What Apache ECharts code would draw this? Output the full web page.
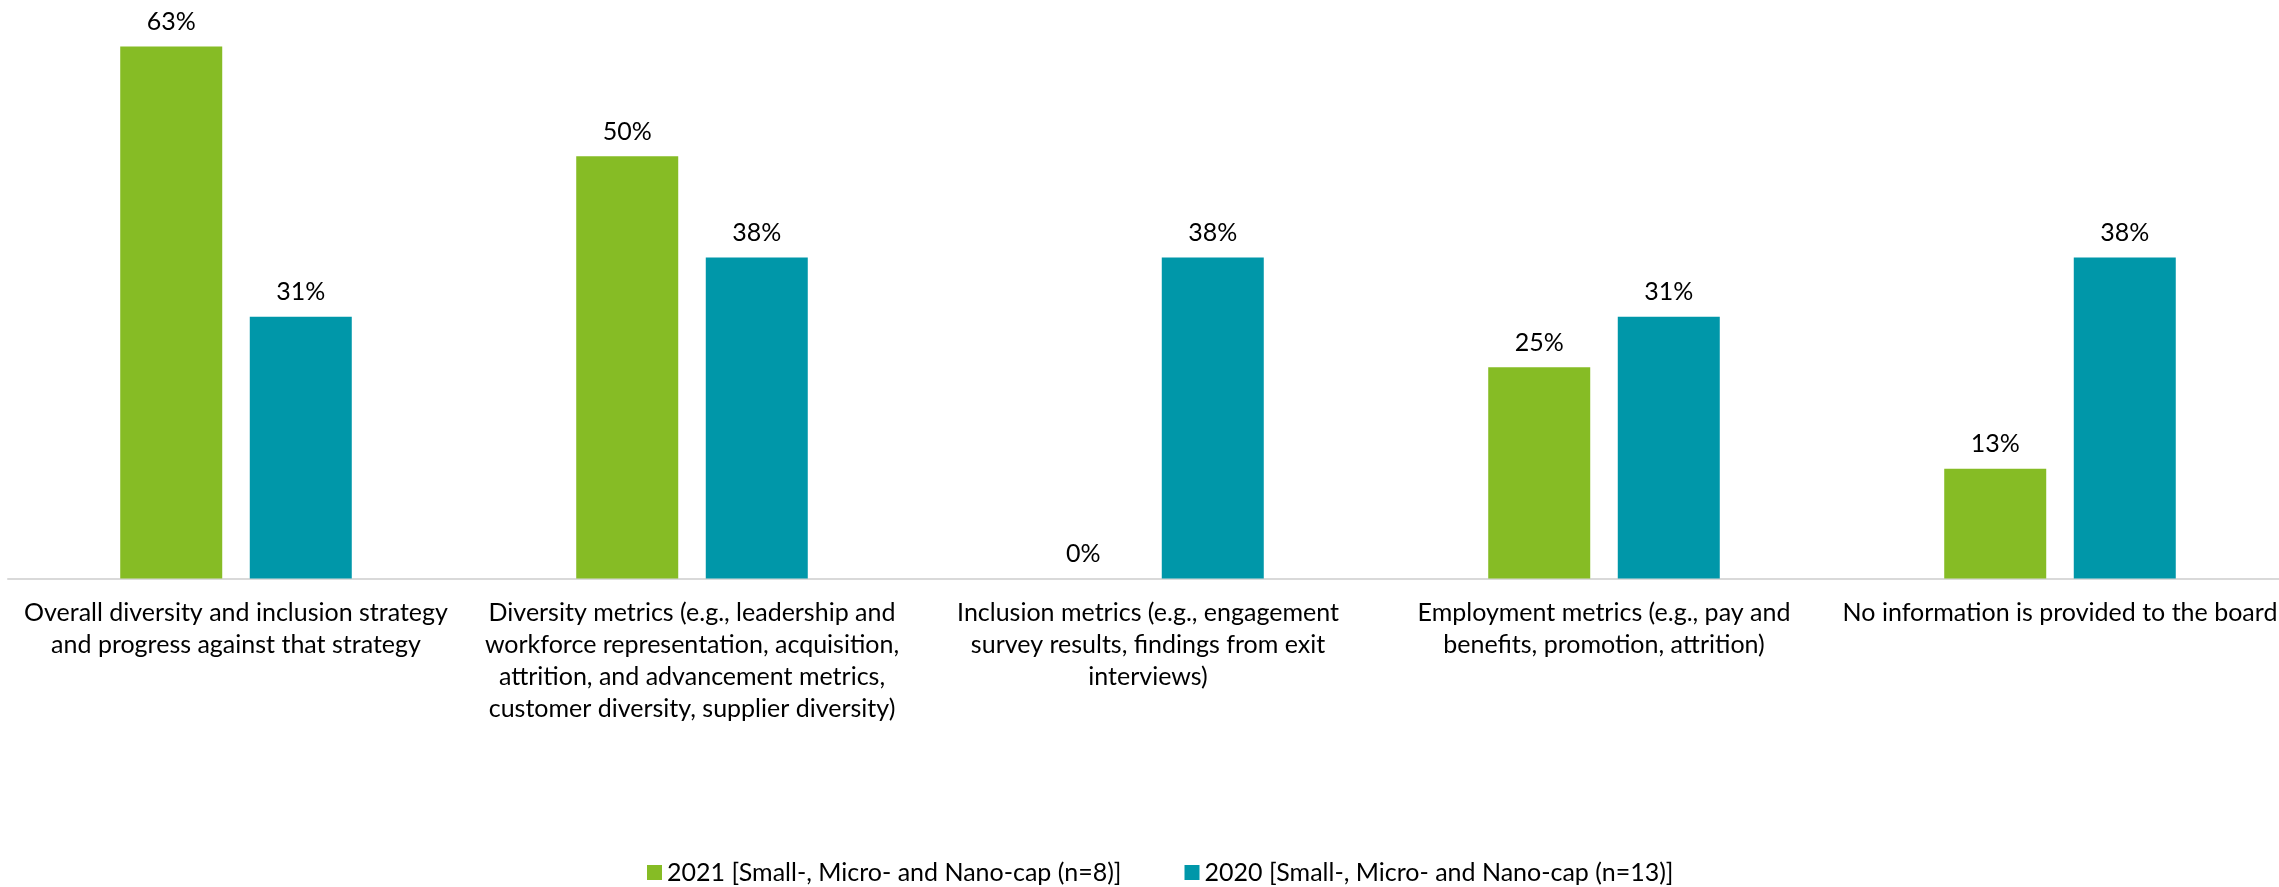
<!DOCTYPE html>
<html>
<head>
<meta charset="utf-8">
<script src="https://cdn.jsdelivr.net/npm/echarts@6/dist/echarts.min.js"></script>
<style>
  html, body { margin: 0; padding: 0; background: #ffffff; overflow: hidden; }
  /* the plot runs slightly past the right edge of the window, so the last label is cut off */
  #chart { width: 2289px; height: 887px; }
</style>
</head>
<body>
<div id="chart"></div>
<script>
// Information provided to the board on diversity and inclusion
const categories = [
  'Overall diversity and inclusion strategy\nand progress against that strategy',
  'Diversity metrics (e.g., leadership and\nworkforce representation, acquisition,\nattrition, and advancement metrics,\ncustomer diversity, supplier diversity)',
  'Inclusion metrics (e.g., engagement\nsurvey results, findings from exit\ninterviews)',
  'Employment metrics (e.g., pay and\nbenefits, promotion, attrition)',
  'No information is provided to the board'
];
const seriesNames = [
  '2021 [Small-, Micro- and Nano-cap (n=8)]',
  '2020 [Small-, Micro- and Nano-cap (n=13)]'
];
const values2021 = [63, 50, 0, 25, 13];
const values2020 = [31, 38, 38, 31, 38];
const colors = ['#86BC25', '#0097A9'];

const FONT = 'Lato';
const FS = 25;

const chart = echarts.init(document.getElementById('chart'), null, { renderer: 'canvas' });

function barSeries(name, data, color) {
  return {
    name: name,
    type: 'bar',
    data: data,
    barWidth: 102,
    barGap: '27%',
    itemStyle: { color: color },
    label: {
      show: true,
      position: 'top',
      distance: 12,
      formatter: '{c}%',
      color: '#000000',
      fontFamily: FONT,
      fontSize: FS
    }
  };
}

chart.setOption({
  animation: false,
  backgroundColor: '#ffffff',
  textStyle: { fontFamily: FONT },
  grid: { left: 8, right: 1, top: 29.5, height: 549, containLabel: false },
  xAxis: {
    type: 'category',
    data: categories,
    axisLine: { show: true, lineStyle: { color: '#d9d9d9', width: 2 } },
    axisTick: { show: false },
    axisLabel: {
      interval: 0,
      margin: 18,
      color: '#000000',
      fontFamily: FONT,
      fontSize: FS,
      lineHeight: 32,
      align: 'center'
    }
  },
  yAxis: {
    type: 'value',
    min: 0,
    max: 65,
    show: false,
    splitLine: { show: false }
  },
  legend: {
    data: seriesNames,
    left: 642,
    top: 855,
    icon: 'rect',
    itemWidth: 15,
    itemHeight: 15,
    itemGap: 63,
    textStyle: { color: '#000000', fontFamily: FONT, fontSize: FS, padding: [0, 0, 0, 0] }
  },
  series: [
    barSeries(seriesNames[0], values2021, colors[0]),
    barSeries(seriesNames[1], values2020, colors[1])
  ]
});
</script>
</body>
</html>
